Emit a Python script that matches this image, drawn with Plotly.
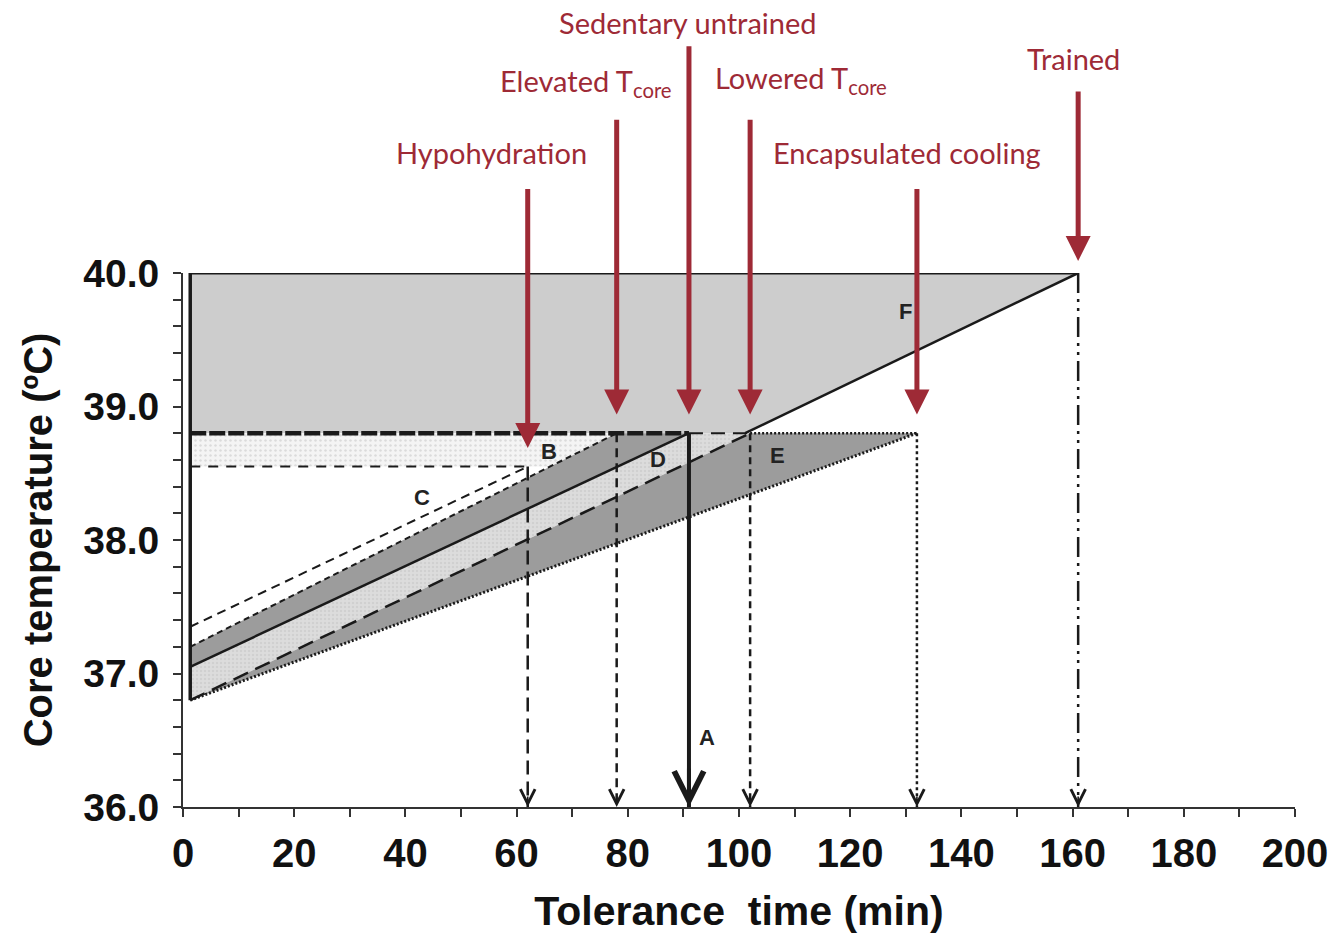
import plotly.graph_objects as go

# Heat-tolerance model: core temperature rises linearly from exercise onset
# until a terminal core temperature is reached (tolerance time).
conditions = ["Hypohydration", "Elevated T<sub>core</sub>", "Sedentary untrained",
              "Lowered T<sub>core</sub>", "Encapsulated cooling", "Trained"]
region_letters = ["C", "B", "A", "D", "E", "F"]
start_core_temp = [37.35, 37.2, 37.05, 36.8, 36.8, 36.8]      # °C at onset
terminal_core_temp = [38.55, 38.8, 38.8, 38.8, 38.8, 40.0]    # °C at exhaustion
tolerance_time = [62, 78, 91, 102, 132, 161]                  # min
exercise_onset = 1.3                                          # min

x_tick_values = [0, 20, 40, 60, 80, 100, 120, 140, 160, 180, 200]
y_tick_values = [36.0, 37.0, 38.0, 39.0, 40.0]

HYPO, ELEV, SED, LOW, ENC, TRN = range(6)
t0 = exercise_onset
Y_RANGE = [36.0, 40.0]
T_base = Y_RANGE[0]

W, H = 1330, 934
MARGIN = dict(l=183, r=35, t=273, b=127)
PX_PER_DEG = (H - MARGIN["t"] - MARGIN["b"]) / (Y_RANGE[1] - Y_RANGE[0])

RED = "#9e2a36"
INK = "#1a1a1a"
DARK_FILL = "#9c9c9c"
LIGHT_FILL = "#cdcdcd"

fig = go.Figure()


def to_paper(temp):
    return (temp - Y_RANGE[0]) / (Y_RANGE[1] - Y_RANGE[0])


def polygon(xs, ys, color, pattern=None):
    fig.add_trace(go.Scatter(x=xs + [xs[0]], y=ys + [ys[0]], mode="lines",
                             fill="toself", fillcolor=color, fillpattern=pattern,
                             line=dict(width=0), hoverinfo="skip", showlegend=False))


def segment(xs, ys, width=2.5, dash="solid", color=INK):
    fig.add_trace(go.Scatter(x=xs, y=ys, mode="lines",
                             line=dict(color=color, width=width, dash=dash),
                             hoverinfo="skip", showlegend=False))


def rise_at(i, temp):
    """Time at which condition i reaches the given core temperature."""
    slope = (terminal_core_temp[i] - start_core_temp[i]) / (tolerance_time[i] - t0)
    return t0 + (temp - start_core_temp[i]) / slope


# ---- shaded regions -------------------------------------------------------
# F: extra heat storage allowed by a higher terminal temperature (trained)
polygon([t0, tolerance_time[TRN], rise_at(TRN, terminal_core_temp[SED]), t0],
        [terminal_core_temp[TRN], terminal_core_temp[TRN],
         terminal_core_temp[SED], terminal_core_temp[SED]], LIGHT_FILL)
# B: storage lost between untrained and hypohydrated terminal temperatures
polygon([t0, tolerance_time[ELEV], rise_at(ELEV, terminal_core_temp[HYPO]), t0],
        [terminal_core_temp[SED], terminal_core_temp[ELEV],
         terminal_core_temp[HYPO], terminal_core_temp[HYPO]], "#f4f4f4",
        dict(shape=".", fgcolor="#c2c2c2", bgcolor="#f4f4f4", size=5, solidity=0.2))
# Elevated starting temperature band
polygon([t0, tolerance_time[ELEV], tolerance_time[SED], t0],
        [start_core_temp[ELEV], terminal_core_temp[ELEV],
         terminal_core_temp[SED], start_core_temp[SED]], DARK_FILL)
# D: gain from a lowered starting temperature
polygon([t0, tolerance_time[SED], tolerance_time[LOW], t0],
        [start_core_temp[SED], terminal_core_temp[SED],
         terminal_core_temp[LOW], start_core_temp[LOW]], "#d9d9d9",
        dict(shape=".", fgcolor="#c4c4c4", bgcolor="#dcdcdc", size=4, solidity=0.3))
# E: gain from a slower rate of rise (encapsulated cooling)
polygon([t0, tolerance_time[LOW], tolerance_time[ENC]],
        [start_core_temp[ENC], terminal_core_temp[LOW], terminal_core_temp[ENC]], DARK_FILL)

# ---- terminal-temperature ceilings ---------------------------------------
segment([t0, tolerance_time[HYPO]], [terminal_core_temp[HYPO]] * 2, 2, "10px,8px")
segment([t0, tolerance_time[SED]], [terminal_core_temp[SED]] * 2, 4.5, "16px,3px")
segment([tolerance_time[SED], tolerance_time[LOW]], [terminal_core_temp[SED]] * 2, 2, "14px,8px")
segment([tolerance_time[LOW], tolerance_time[ENC]], [terminal_core_temp[ENC]] * 2, 2.5, "2px,2px")
segment([t0, tolerance_time[TRN]], [terminal_core_temp[TRN]] * 2, 3)
segment([t0, t0], [start_core_temp[LOW], terminal_core_temp[TRN]], 3.5)

# ---- rise of core temperature for each condition -------------------------
rise_styles = [(2, "9px,6px"), (2, "6px,4px"), (2.5, "solid"), (2.5, "16px,8px"), (3, "2px,2px")]
for i, (w, d) in enumerate(rise_styles):
    segment([t0, tolerance_time[i]], [start_core_temp[i], terminal_core_temp[i]], w, d)
segment([rise_at(TRN, terminal_core_temp[SED]), tolerance_time[TRN]],
        [terminal_core_temp[SED], terminal_core_temp[TRN]], 2.5)

# ---- drop lines to the tolerance time on the x-axis ----------------------
drop_styles = [(2.5, "14px,7px"), (2.5, "9px,6px"), (4, "solid"), (2.5, "7px,5px"),
               (2.5, "3px,3px"), (2.5, "20px,6px,3px,6px,3px,6px")]
for i, (w, d) in enumerate(drop_styles):
    segment([tolerance_time[i]] * 2, [terminal_core_temp[i], T_base], w, d)

annotations = []
for i, (w, _) in enumerate(drop_styles):
    heavy = i == SED
    annotations.append(dict(x=tolerance_time[i], y=to_paper(T_base), xref="x", yref="paper",
                            ax=0, ay=-40 if heavy else -12, text="", showarrow=True,
                            arrowhead=5, arrowwidth=w if heavy else 1.6,
                            arrowsize=1.45 if heavy else 1.8, arrowcolor=INK))

# ---- region letters ------------------------------------------------------
letter_pos = {"A": (94.3, 36.52), "B": (65.8, 38.66), "C": (43.0, 38.32),
              "D": (85.4, 38.6), "E": (107.0, 38.63), "F": (130.0, 39.71)}
for letter in region_letters:
    lx, ly = letter_pos[letter]
    annotations.append(dict(x=lx, y=ly, xref="x", yref="y", text=f"<b>{letter}</b>",
                            showarrow=False,
                            font=dict(family="Liberation Sans", size=22, color="#222")))

# ---- condition labels with red arrows ------------------------------------
label_pos = [(55.4, 40.90), (72.4, 41.43), (90.8, 41.88),
             (111.2, 41.45), (130.2, 40.90), (160.1, 41.61)]
arrow_tail = [40.64, 41.16, 41.71, 41.16, 40.64, 41.37]
for i, name in enumerate(conditions):
    lx, ly = label_pos[i]
    annotations.append(dict(x=lx, y=to_paper(ly), xref="x", yref="paper", text=name,
                            showarrow=False, xanchor="center", yanchor="middle",
                            font=dict(family="Lato", size=29, color=RED)))
    tip = terminal_core_temp[i] + (0.09 if i == TRN else 0.14)
    annotations.append(dict(x=tolerance_time[i], y=to_paper(tip),
                            xref="x", yref="paper",
                            ax=0, ay=-(arrow_tail[i] - tip) * PX_PER_DEG, text="",
                            showarrow=True, arrowhead=2, arrowsize=1.0,
                            arrowwidth=5, arrowcolor=RED))

axis_font = dict(family="Liberation Sans", color="#111", weight="bold")
fig.update_layout(
    width=W, height=H,
    margin=MARGIN,
    paper_bgcolor="white", plot_bgcolor="white",
    showlegend=False,
    annotations=annotations,
    xaxis=dict(range=[0, 200], tickvals=x_tick_values, ticks="outside", ticklen=8,
               tickwidth=2, tickcolor="#333", showline=True, linewidth=2, linecolor="#333",
               showgrid=False, zeroline=False, ticklabelstandoff=2, automargin=False,
               tickfont=dict(size=40, **axis_font),
               minor=dict(dtick=10, ticks="outside", ticklen=8, tickwidth=2, tickcolor="#333"),
               title=dict(text="Tolerance  time (min)", standoff=28,
                          font=dict(size=41, **axis_font))),
    yaxis=dict(range=Y_RANGE, tickvals=y_tick_values, tickformat=".1f", ticks="outside",
               ticklen=8, tickwidth=2, tickcolor="#333", showline=True, linewidth=2,
               linecolor="#333", showgrid=False, zeroline=False, ticklabelstandoff=6,
               automargin=False,
               tickfont=dict(size=39, **axis_font),
               minor=dict(dtick=0.2, ticks="outside", ticklen=8, tickwidth=2, tickcolor="#333"),
               title=dict(text="Core temperature (ºC)", standoff=18,
                          font=dict(size=40, **axis_font))),
)

fig.write_html("out.html")
